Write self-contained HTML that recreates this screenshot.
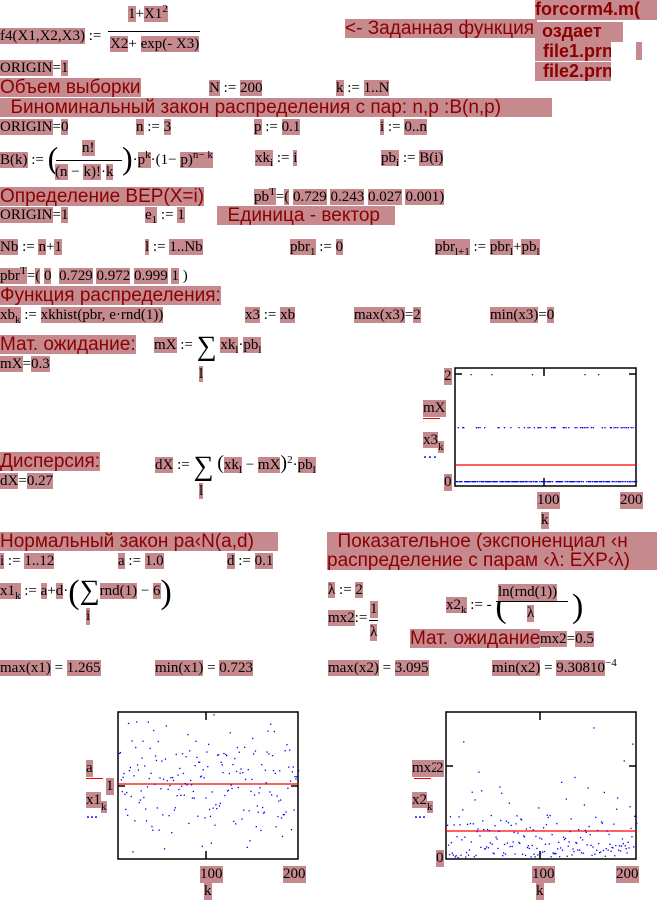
<!DOCTYPE html>
<html><head><meta charset="utf-8">
<style>
body{margin:0;width:657px;height:900px;background:#fff;position:relative;overflow:hidden}
.m{position:absolute;font-family:"Liberation Serif",serif;font-size:15px;color:#000;white-space:nowrap;line-height:17px}
.h{position:absolute;font-family:"Liberation Sans",sans-serif;font-size:19px;color:#8b0000;white-space:nowrap;line-height:19px;background:#c68a8e;overflow:hidden}
.b{background:#c68a8e}
.hl{position:absolute;background:#c68a8e}
sub,sup{font-size:11px;line-height:0}
.bold{font-weight:bold}
</style></head><body>
<!-- top -->
<span class="m" style="left:0;top:28px"><span class="b">f4(X1,X2,X3)</span> :=</span>
<span class="m" style="left:128px;top:6px"><span class="b">1</span>+<span class="b">X1<sup>2</sup></span></span>
<div style="position:absolute;left:108px;top:31px;width:92px;border-top:1px solid #000"></div>
<span class="m" style="left:110px;top:36px"><span class="b">X2</span>+ <span class="b">exp(- X3)</span></span>
<span class="h" style="left:345px;top:19px;height:19px;width:192px">&lt;- Заданная функция</span>
<span class="h bold" style="left:535px;top:0;width:122px;height:20px;font-size:18px">forcorm4.m(</span>
<span class="h bold" style="left:535px;top:22px;width:88px;height:20px;font-size:18px;padding-left:7px;box-sizing:border-box">оздает</span>
<span class="h bold" style="left:535px;top:42px;width:68px;height:19px;font-size:18px;padding-left:8px">file1.prn</span>
<div class="hl" style="left:636px;top:42px;width:6px;height:18px"></div>
<span class="h bold" style="left:535px;top:62px;width:68px;height:19px;font-size:18px;padding-left:8px">file2.prn</span>
<span class="m" style="left:0;top:60px"><span class="b">ORIGIN</span>=<span class="b">1</span></span>
<span class="h" style="left:0;top:78px">Объем выборки</span>
<span class="m" style="left:209px;top:80px"><span class="b">N</span> := <span class="b">200</span></span>
<span class="m" style="left:336px;top:80px"><span class="b">k</span> := <span class="b">1..N</span></span>
<span class="h" style="left:0;top:98px;width:552px;height:19px">&nbsp; Биноминальный закон распределения с пар: n,p :B(n,p)</span>
<span class="m" style="left:0;top:119px"><span class="b">ORIGIN</span>=<span class="b">0</span></span>
<span class="m" style="left:136px;top:119px"><span class="b">n</span> := <span class="b">3</span></span>
<span class="m" style="left:254px;top:119px"><span class="b">p</span> := <span class="b">0.1</span></span>
<span class="m" style="left:380px;top:119px"><span class="b">i</span> := <span class="b">0..n</span></span>
<span class="m" style="left:0;top:150px"><span class="b">B(k)</span> := <span style="font-size:32px;vertical-align:-5px">(</span></span>
<span class="m" style="left:82px;top:140px"><span class="b">n!</span></span>
<div style="position:absolute;left:56px;top:160px;width:66px;border-top:1px solid #000"></div>
<span class="m" style="left:55px;top:164px"><span class="b">(n</span> − <span class="b">k)!</span>·<span class="b">k</span></span>
<span class="m" style="left:122px;top:150px"><span style="font-size:32px;vertical-align:-5px">)</span>·<span class="b">p<sup>k</sup></span>·(1− <span class="b">p)<sup>n− k</sup></span></span>
<span class="m" style="left:255px;top:150px"><span class="b">xk<sub>i</sub></span> := <span class="b">i</span></span>
<span class="m" style="left:381px;top:150px"><span class="b">pb<sub>i</sub></span> := <span class="b">B(i)</span></span>
<span class="h" style="left:0;top:187px">Определение ВЕР(X=i)</span>
<span class="m" style="left:254px;top:189px"><span class="b">pb<sup>T</sup></span>=<span class="b">(</span> <span class="b">0.729</span> <span class="b">0.243</span> <span class="b">0.027</span> <span class="b">0.001)</span></span>
<span class="m" style="left:0;top:207px"><span class="b">ORIGIN</span>=<span class="b">1</span></span>
<span class="m" style="left:145px;top:207px"><span class="b">e<sub>1</sub></span> := <span class="b">1</span></span>
<span class="h" style="left:217px;top:206px;width:178px">&nbsp; Единица - вектор</span>
<span class="m" style="left:0;top:239px"><span class="b">Nb</span> := <span class="b">n</span>+<span class="b">1</span></span>
<span class="m" style="left:145px;top:239px"><span class="b">l</span> := <span class="b">1..Nb</span></span>
<span class="m" style="left:290px;top:239px"><span class="b">pbr<sub>1</sub></span> := <span class="b">0</span></span>
<span class="m" style="left:435px;top:239px"><span class="b">pbr<sub>l+1</sub></span> := <span class="b">pbr<sub>l</sub></span>+<span class="b">pb<sub>l</sub></span></span>
<span class="m" style="left:0;top:268px"><span class="b">pbr<sup>T</sup></span>=<span class="b">(</span> <span class="b">0</span> &nbsp;<span class="b">0.729</span> <span class="b">0.972</span> <span class="b">0.999</span> <span class="b">1</span> )</span>
<span class="h" style="left:0;top:286px">Функция распределения:</span>
<span class="m" style="left:0;top:307px"><span class="b">xb<sub>k</sub></span> := <span class="b">xkhist(pbr, e·rnd(1))</span></span>
<span class="m" style="left:245px;top:307px"><span class="b">x3</span> := <span class="b">xb</span></span>
<span class="m" style="left:354px;top:307px"><span class="b">max(x3)</span>=<span class="b">2</span></span>
<span class="m" style="left:490px;top:307px"><span class="b">min(x3)</span>=<span class="b">0</span></span>
<span class="h" style="left:0;top:335px">Мат. ожидание:</span>
<span class="m" style="left:154px;top:337px"><span class="b">mX</span> := <span style="font-size:28px;vertical-align:-6px">∑</span> <span class="b">xk<sub>l</sub></span>·<span class="b">pb<sub>l</sub></span></span>
<span class="m" style="left:199px;top:366px"><span class="b">l</span></span>
<span class="m" style="left:0;top:356px"><span class="b">mX</span>=<span class="b">0.3</span></span>
<span class="h" style="left:0;top:452px">Дисперсия:</span>
<span class="m" style="left:155px;top:455px"><span class="b">dX</span> := <span style="font-size:28px;vertical-align:-6px">∑</span> <span style="font-size:20px">(</span><span class="b">xk<sub>l</sub></span> − <span class="b">mX</span><span style="font-size:20px">)</span><sup>2</sup>·<span class="b">pb<sub>l</sub></span></span>
<span class="m" style="left:199px;top:483px"><span class="b">l</span></span>
<span class="m" style="left:0;top:473px"><span class="b">dX</span>=<span class="b">0.27</span></span>

<!-- plot 1 labels -->
<span class="m b" style="left:444px;top:368px">2</span>
<span class="m b" style="left:444px;top:474px">0</span>
<span class="m b" style="left:423px;top:400px">mX</span>
<div style="position:absolute;left:423px;top:418px;width:17px;border-top:1px solid red"></div>
<span class="m" style="left:423px;top:432px"><span class="b">x3</span><span class="b" style="font-size:11px;vertical-align:-6px">k</span></span>
<span class="m" style="left:423px;top:452px;color:blue;font-size:12px;letter-spacing:1px;font-weight:bold;line-height:10px">···</span>
<span class="m b" style="left:537px;top:492px">100</span>
<span class="m b" style="left:620px;top:492px">200</span>
<span class="m b" style="left:541px;top:512px">k</span>

<!-- normal / exp -->
<span class="h" style="left:0;top:532px;width:278px">Нормальный закон ра‹N(a,d)</span>
<span class="h" style="left:327px;top:532px;width:330px">&nbsp; Показательное (экспоненциал ‹н</span>
<span class="m" style="left:0;top:553px"><span class="b">i</span> := <span class="b">1..12</span></span>
<span class="m" style="left:118px;top:553px"><span class="b">a</span> := <span class="b">1.0</span></span>
<span class="m" style="left:227px;top:553px"><span class="b">d</span> := <span class="b">0.1</span></span>
<span class="h" style="left:327px;top:551px;width:330px">распределение с парам ‹λ: EXP‹λ)</span>
<span class="m" style="left:0;top:582px"><span class="b">x1<sub>k</sub></span> := <span class="b">a</span>+<span class="b">d</span>·<span style="font-size:34px;vertical-align:-8px">(</span><span style="font-size:28px;vertical-align:-4px">∑</span><span class="b">rnd(1)</span> − <span class="b">6</span><span style="font-size:34px;vertical-align:-8px">)</span></span>
<span class="m b" style="left:86px;top:608px">i</span>
<span class="m" style="left:328px;top:582px"><span class="b">λ</span> := <span class="b">2</span></span>
<span class="m" style="left:328px;top:610px"><span class="b">mx2</span>:=</span>
<span class="m b" style="left:370px;top:601px">1</span>
<div style="position:absolute;left:369px;top:620px;width:9px;border-top:1px solid #000"></div>
<span class="m b" style="left:370px;top:624px">λ</span>
<span class="m" style="left:446px;top:597px"><span class="b">x2<sub>k</sub></span> := - <span style="font-size:34px;vertical-align:-8px">(</span></span>
<span class="m b" style="left:498px;top:584px">ln(rnd(1))</span>
<div style="position:absolute;left:496px;top:601px;width:72px;border-top:1px solid #000"></div>
<span class="m b" style="left:527px;top:605px">λ</span>
<span class="m" style="left:572px;top:597px"><span style="font-size:34px;vertical-align:-8px">)</span></span>
<span class="h" style="left:410px;top:629px;width:130px">Мат. ожидание</span>
<span class="m" style="left:540px;top:631px"><span class="b">mx2</span>=<span class="b">0.5</span></span>
<span class="m" style="left:0;top:660px"><span class="b">max(x1)</span> = <span class="b">1.265</span></span>
<span class="m" style="left:155px;top:660px"><span class="b">min(x1)</span> = <span class="b">0.723</span></span>
<span class="m" style="left:328px;top:660px"><span class="b">max(x2)</span> = <span class="b">3.095</span></span>
<span class="m" style="left:492px;top:660px"><span class="b">min(x2)</span> = <span class="b">9.30810</span><sup>−4</sup></span>

<!-- plot 2 labels -->
<span class="m b" style="left:86px;top:760px">a</span>
<div style="position:absolute;left:86px;top:778px;width:17px;border-top:1px solid red"></div>
<span class="m b" style="left:106px;top:778px">1</span>
<span class="m" style="left:86px;top:792px"><span class="b">x1</span><span class="b" style="font-size:11px;vertical-align:-6px">k</span></span>
<span class="m" style="left:86px;top:812px;color:blue;font-size:12px;font-weight:bold;line-height:10px">···</span>
<span class="m b" style="left:200px;top:866px">100</span>
<span class="m b" style="left:283px;top:866px">200</span>
<span class="m b" style="left:204px;top:883px">k</span>
<!-- plot 3 labels -->
<span class="m b" style="left:412px;top:760px">mx2</span>
<span class="m b" style="left:436px;top:760px">2</span>
<div style="position:absolute;left:414px;top:778px;width:17px;border-top:1px solid red"></div>
<span class="m" style="left:412px;top:792px"><span class="b">x2</span><span class="b" style="font-size:11px;vertical-align:-6px">k</span></span>
<span class="m" style="left:414px;top:812px;color:blue;font-size:12px;font-weight:bold;line-height:10px">···</span>
<span class="m b" style="left:436px;top:850px">0</span>
<span class="m b" style="left:532px;top:866px">100</span>
<span class="m b" style="left:616px;top:866px">200</span>
<span class="m b" style="left:536px;top:883px">k</span>

<svg id="s" width="657" height="900" style="position:absolute;left:0;top:0" xmlns="http://www.w3.org/2000/svg">
<g fill="none" stroke="#000" stroke-width="1.5">
<rect x="455" y="368" width="181" height="118"/>
<rect x="118" y="712" width="180" height="147"/>
<rect x="446" y="712" width="190" height="147"/>
</g>
<g stroke="#000" stroke-width="1.5">
<line x1="544" y1="368" x2="544" y2="376"/><line x1="544" y1="478" x2="544" y2="486"/>
<line x1="455" y1="374" x2="462" y2="374"/><line x1="629" y1="374" x2="636" y2="374"/>
<line x1="206" y1="712" x2="206" y2="720"/><line x1="206" y1="851" x2="206" y2="859"/>
<line x1="118" y1="786" x2="125" y2="786"/><line x1="291" y1="786" x2="298" y2="786"/>
<line x1="540" y1="712" x2="540" y2="720"/><line x1="540" y1="851" x2="540" y2="859"/>
<line x1="446" y1="766" x2="453" y2="766"/><line x1="629" y1="766" x2="636" y2="766"/>
</g>
<g stroke="red" stroke-width="1.2">
<line x1="455" y1="465" x2="636" y2="465"/>
<line x1="118" y1="784" x2="298" y2="784"/>
<line x1="446" y1="831" x2="636" y2="831"/>
</g>
<g id="pts" fill="blue"></g>
</svg>
<script>
(function(){var g=document.getElementById('pts'),s=7,h='';
function r(){s=(s*16807)%2147483647;return s/2147483647;}
function d(x,y){h+='<rect x="'+x.toFixed(1)+'" y="'+y.toFixed(1)+'" width="1.3" height="1.3"/>';}
for(var k=1;k<=200;k++){
 var x=455+k*0.905,u=r(),y=u<0.73?481:(u<0.973?427:374);d(x,y);
 var t=0;for(var i=0;i<12;i++)t+=r();var v=1+0.1*(t-6);d(118+k*0.9,784-(v-1)*260);
 var e=-Math.log(r()+1e-6)/2;d(446+k*0.95,857-e*45.5);
}
g.innerHTML=h;})();
</script>
</body></html>
